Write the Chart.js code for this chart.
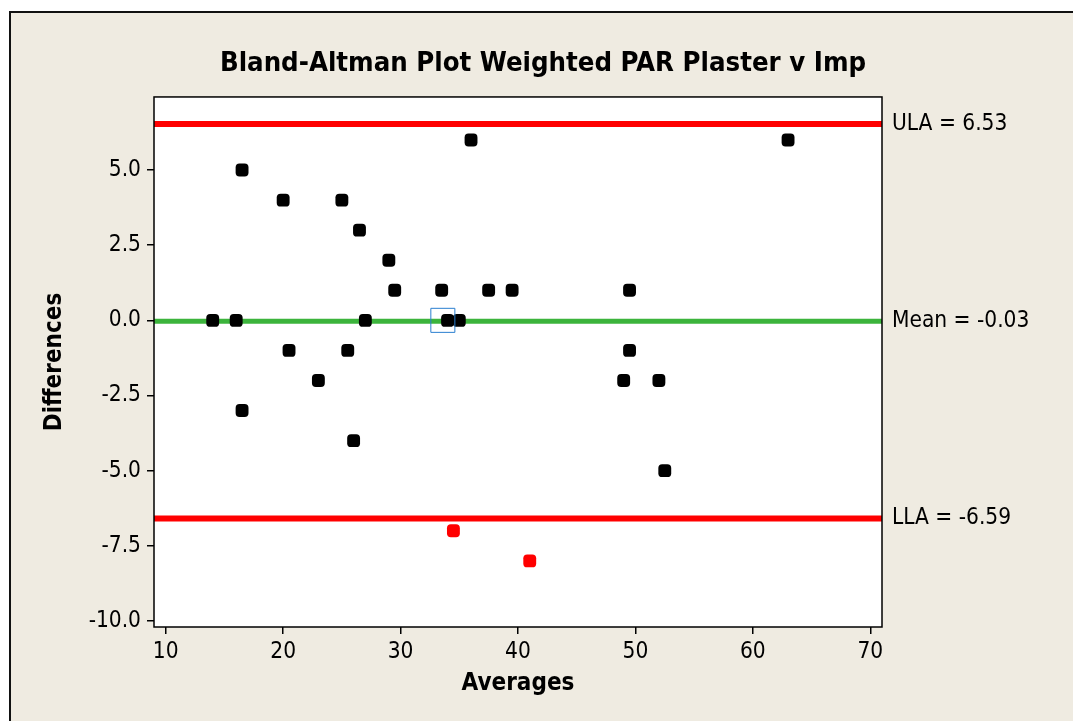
<!DOCTYPE html>
<html>
<head>
<meta charset="utf-8">
<title>Bland-Altman Plot</title>
<script src="https://cdn.jsdelivr.net/npm/chart.js@4.4.1/dist/chart.umd.min.js"></script>
<style>
    html, body { margin: 0; padding: 0; background: #fff; }
    body { width: 1073px; height: 721px; position: relative; overflow: hidden; }
    .panel { position: absolute; left: 9px; top: 11px; right: -4px; bottom: -4px; background: #efebe1; border-left: 2px solid #111; border-top: 2px solid #111; }
    #wrap { position: absolute; left: 0; top: 0; width: 1073px; height: 721px; }
</style>
</head>
<body>
<div class="panel"></div>
<div id="wrap"><canvas id="baChart" width="1073" height="721"></canvas></div>
<script>
// average of the two methods (x) and their difference (y), one entry per case
const averages    = [14, 16, 16.5, 16.5, 20, 20.5, 23, 25, 25.5, 26, 26.5, 27, 29, 29.5, 33.5, 34, 35, 36, 37.5, 39.5, 49, 49.5, 49.5, 52, 52.5, 63];
const differences = [0, 0, 5, -3, 4, -1, -2, 4, -1, -4, 3, 0, 2, 1, 1, 0, 0, 6, 1, 1, -2, 1, -1, -2, -5, 6];

// cases falling outside the limits of agreement
const outAverages    = [34.5, 41];
const outDifferences = [-7, -8];

// brushed case
const selAverages    = [33.6];
const selDifferences = [0];

// limits of agreement and mean difference
const limitNames  = ['ULA', 'Mean', 'LLA'];
const limitValues = [6.53, -0.03, -6.59];

const xTicks = [10, 20, 30, 40, 50, 60, 70];
const yTicks = [-10, -7.5, -5, -2.5, 0, 2.5, 5];
const xRange = [9, 71];
const yRange = [-10.2, 7.43];

const FONT = "'DejaVu Sans Condensed', 'DejaVu Sans', sans-serif";
const toPoints = (xs, ys) => xs.map((x, i) => ({ x: x, y: ys[i] }));
const hline = v => [{ x: xRange[0], y: v }, { x: xRange[1], y: v }];
const limitColor = ['#ff0000', '#3cb43c', '#ff0000'];
const limitWidth = [6, 5, 6];

// white plot area with a black frame round it
const plotFrame = {
    id: 'plotFrame',
    beforeDraw(chart) {
        const a = chart.chartArea, ctx = chart.ctx;
        ctx.save();
        ctx.fillStyle = '#fff';
        ctx.fillRect(a.left, a.top, a.right - a.left, a.bottom - a.top);
        ctx.restore();
    },
    afterDatasetsDraw(chart) {
        const a = chart.chartArea, ctx = chart.ctx;
        ctx.save();
        ctx.strokeStyle = '#000';
        ctx.lineWidth = 1.5;
        ctx.strokeRect(a.left, a.top, a.right - a.left, a.bottom - a.top);
        ctx.restore();
    }
};

const limitSets = limitValues.map((v, i) => ({
    type: 'line',
    label: limitNames[i],
    data: hline(v),
    borderColor: limitColor[i],
    borderWidth: limitWidth[i],
    pointRadius: 0,
    order: 3
}));

const tickGrid = { display: true, drawOnChartArea: false, drawTicks: true, tickLength: 7, color: '#000', lineWidth: 1.5 };
const tickFont = { family: FONT, size: 22.5 };
const axisTitleFont = { family: FONT, size: 24, weight: 'bold', lineHeight: 1.2 };

new Chart(document.getElementById('baChart').getContext('2d'), {
    type: 'scatter',
    data: {
        datasets: [
            { label: 'Cases', data: toPoints(averages, differences), pointStyle: 'rectRounded', pointRadius: 7.5, backgroundColor: '#000', borderWidth: 0, order: 1 },
            { label: 'Outside', data: toPoints(outAverages, outDifferences), pointStyle: 'rectRounded', pointRadius: 7.5, backgroundColor: '#ff0000', borderWidth: 0, order: 1 },
            { label: 'Brushed', data: toPoints(selAverages, selDifferences), pointStyle: 'rect', pointRadius: 17, backgroundColor: 'rgba(0,0,0,0)', borderColor: '#2a7fd0', borderWidth: 1, order: 0 },
            ...limitSets
        ]
    },
    options: {
        responsive: false,
        animation: false,
        devicePixelRatio: 1,
        layout: { padding: { left: 13, right: 0, top: 0, bottom: 0 } },
        plugins: {
            legend: { display: false },
            tooltip: { enabled: false },
            title: {
                display: true,
                text: 'Bland-Altman Plot Weighted PAR Plaster v Imp',
                color: '#000',
                font: { family: FONT, size: 27.3, weight: 'bold', lineHeight: 1.2 },
                padding: { top: 47.6, bottom: 16.6 }
            }
        },
        scales: {
            x: {
                type: 'linear', position: 'bottom',
                min: xRange[0], max: xRange[1],
                afterBuildTicks: s => { s.ticks = xTicks.map(v => ({ value: v })); },
                afterFit: s => { s.height = 94; },
                grid: tickGrid,
                border: { display: false },
                ticks: { color: '#000', autoSkip: false, maxRotation: 0, padding: 5, font: tickFont },
                title: { display: true, text: 'Averages', color: '#000', font: axisTitleFont, padding: { top: 0, bottom: 22.6 } }
            },
            y: {
                type: 'linear', position: 'left',
                min: yRange[0], max: yRange[1],
                afterBuildTicks: s => { s.ticks = yTicks.map(v => ({ value: v })); },
                afterFit: s => { s.width = 141; },
                grid: tickGrid,
                border: { display: false },
                ticks: { color: '#000', autoSkip: false, padding: 6, font: tickFont, callback: v => v.toFixed(1) },
                title: { display: true, text: 'Differences', color: '#000', font: axisTitleFont, padding: { top: 27.6, bottom: 0 } }
            },
            lim: {
                type: 'linear', position: 'right',
                min: yRange[0], max: yRange[1],
                afterBuildTicks: s => { s.ticks = limitValues.map(v => ({ value: v })); },
                afterFit: s => { s.width = 191; },
                grid: { display: false, drawTicks: false },
                border: { display: false },
                ticks: {
                    color: '#000', autoSkip: false, padding: 10, font: tickFont,
                    callback: v => limitNames[limitValues.indexOf(v)] + ' = ' + v.toFixed(2)
                }
            }
        }
    },
    plugins: [plotFrame]
});
</script>
</body>
</html>
